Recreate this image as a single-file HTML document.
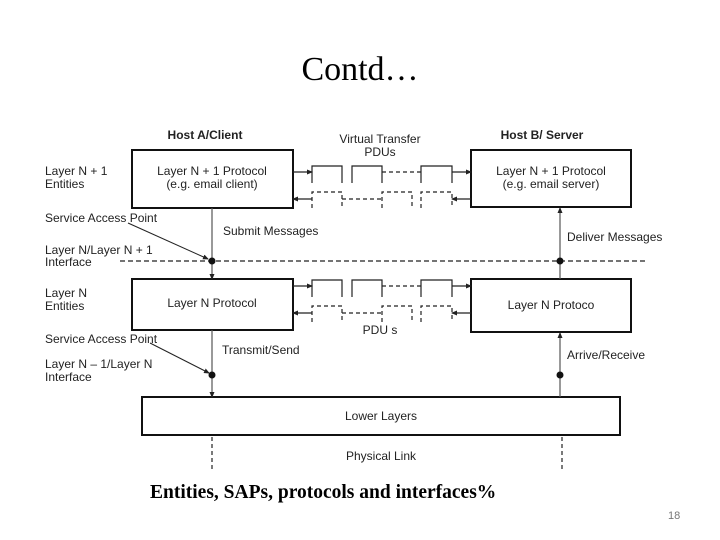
<!DOCTYPE html>
<html><head><meta charset="utf-8"><style>
html,body{margin:0;padding:0;background:#fff;}
svg{display:block;}
.s{font-family:"Liberation Sans",sans-serif;font-size:12px;fill:#222;}
.b{font-weight:bold;}
</style></head><body>
<svg width="720" height="540" viewBox="0 0 720 540" xmlns="http://www.w3.org/2000/svg">
<defs>
<marker id="ar" markerWidth="6" markerHeight="6" refX="5" refY="3" orient="auto" markerUnits="userSpaceOnUse"><path d="M0,0.5 L6,3 L0,5.5z" fill="#222"/></marker>
</defs>
<text x="360" y="80" text-anchor="middle" font-family="Liberation Serif,serif" font-size="34" fill="#000">Contd…</text>

<text class="s b" x="205" y="139" text-anchor="middle">Host A/Client</text>
<text class="s" x="380" y="143" text-anchor="middle">Virtual Transfer</text>
<text class="s" x="380" y="156" text-anchor="middle">PDUs</text>
<text class="s b" x="542" y="139" text-anchor="middle">Host B/ Server</text>

<g fill="none" stroke="#111" stroke-width="2">
<rect x="132" y="150" width="161" height="58"/>
<rect x="471" y="150" width="160" height="57"/>
<rect x="132" y="279" width="161" height="51"/>
<rect x="471" y="279" width="160" height="53"/>
<rect x="142" y="397" width="478" height="38"/>
</g>
<text class="s" x="212" y="175" text-anchor="middle">Layer N + 1 Protocol</text>
<text class="s" x="212" y="188" text-anchor="middle">(e.g. email client)</text>
<text class="s" x="551" y="175" text-anchor="middle">Layer N + 1 Protocol</text>
<text class="s" x="551" y="188" text-anchor="middle">(e.g. email server)</text>
<text class="s" x="212" y="307" text-anchor="middle">Layer N Protocol</text>
<text class="s" x="551" y="309" text-anchor="middle">Layer N Protoco</text>
<text class="s" x="381" y="420" text-anchor="middle">Lower Layers</text>
<text class="s" x="381" y="460" text-anchor="middle">Physical Link</text>

<g fill="none" stroke="#222" stroke-width="1.2">
<g id="row">
<path d="M312,183 V166 H342 V183 M352,183 V166 H382 V183 M421,183 V166 H452 V183"/>
<path d="M382,172 H421" stroke-dasharray="4,3"/>
<path d="M312,208 V192 H342 V208 M382,208 V192 H412 V208 M421,208 V192 H452 V208" stroke-dasharray="4,3"/>
<path d="M342,199 H382" stroke-dasharray="4,3"/>
<path d="M293,172 H312" marker-end="url(#ar)"/>
<path d="M452,172 H471" marker-end="url(#ar)"/>
<path d="M312,199 H293" marker-end="url(#ar)"/>
<path d="M471,199 H452" marker-end="url(#ar)"/>
</g>
<use href="#row" transform="translate(0,114)"/>
</g>
<text class="s" x="380" y="334" text-anchor="middle">PDU s</text>

<g stroke="#555" stroke-width="1.2" fill="none">
<path d="M212,208 V279" marker-end="url(#ar)"/>
<path d="M212,330 V397" marker-end="url(#ar)"/>
<path d="M560,279 V208" marker-end="url(#ar)"/>
<path d="M560,397 V333" marker-end="url(#ar)"/>
</g>
<path d="M120,261 H645" stroke="#222" stroke-width="1.2" stroke-dasharray="5,3"/>
<g stroke="#222" stroke-width="1.2" stroke-dasharray="4,3">
<path d="M212,437 V470"/><path d="M562,437 V470"/>
</g>
<circle cx="212" cy="261" r="3.5" fill="#111"/>
<circle cx="560" cy="261" r="3.5" fill="#111"/>
<circle cx="212" cy="375" r="3.5" fill="#111"/>
<circle cx="560" cy="375" r="3.5" fill="#111"/>

<g stroke="#222" stroke-width="1">
<path d="M128,223 L208,259" marker-end="url(#ar)"/>
<path d="M150,343 L209,373" marker-end="url(#ar)"/>
</g>

<text class="s" x="45" y="175">Layer N + 1</text>
<text class="s" x="45" y="188">Entities</text>
<text class="s" x="45" y="222">Service Access Point</text>
<text class="s" x="45" y="254">Layer N/Layer N + 1</text>
<text class="s" x="45" y="266">Interface</text>
<text class="s" x="45" y="297">Layer N</text>
<text class="s" x="45" y="310">Entities</text>
<text class="s" x="45" y="343">Service Access Point</text>
<text class="s" x="45" y="368">Layer N – 1/Layer N</text>
<text class="s" x="45" y="381">Interface</text>
<text class="s" x="223" y="235">Submit Messages</text>
<text class="s" x="567" y="241">Deliver Messages</text>
<text class="s" x="222" y="354">Transmit/Send</text>
<text class="s" x="567" y="359">Arrive/Receive</text>

<text x="150" y="498" font-family="Liberation Serif,serif" font-size="19.5" font-weight="bold" fill="#000">Entities, SAPs, protocols and interfaces%</text>
<text x="668" y="519" font-family="Liberation Sans,sans-serif" font-size="11" fill="#777">18</text>
</svg>
</body></html>
